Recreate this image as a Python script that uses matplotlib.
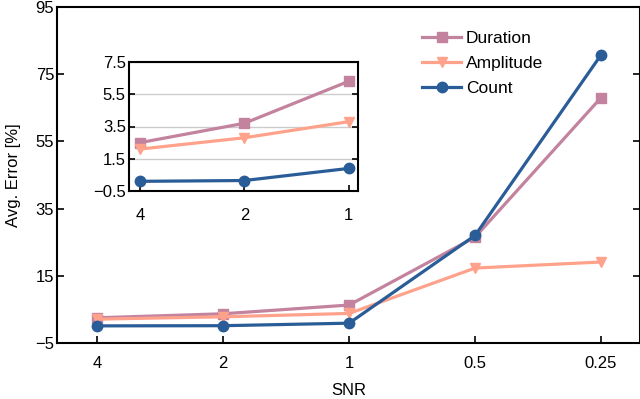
import matplotlib.pyplot as plt

plt.rcParams['font.family'] = ['Liberation Sans', 'DejaVu Sans']
plt.rcParams['font.size'] = 12

snr = ['4', '2', '1', '0.5', '0.25']
duration = [2.5, 3.7, 6.3, 26.5, 68.0]
amplitude = [2.1, 2.8, 3.8, 17.3, 19.1]
count = [0.1, 0.15, 0.9, 27.0, 80.7]

c_dur = '#c3839f'
c_amp = '#ffa28c'
c_cnt = '#2a5d98'

x = list(range(len(snr)))

fig = plt.figure(figsize=(6.4, 3.99), dpi=100)
ax = fig.add_axes([57/640, 1 - 343/399, (640 - 57)/640, (343 - 7)/399])

ax.plot(x, duration, color=c_dur, lw=2.3, marker='s', ms=7.5, label='Duration')
ax.plot(x, amplitude, color=c_amp, lw=2.3, marker='v', ms=7.5, label='Amplitude')
ax.plot(x, count, color=c_cnt, lw=2.3, marker='o', ms=7.5, label='Count')

ax.set_xlim(-0.32, 4.31)
ax.set_ylim(-5, 95)
ax.set_yticks([-5, 15, 35, 55, 75, 95])
ax.set_xticks(x)
ax.set_xticklabels(snr)
ax.tick_params(direction='in', right=True, length=5, width=1.2, pad=9)
ax.tick_params(axis='y', pad=2)
for s in ax.spines.values():
    s.set_linewidth(1.5)
ax.set_xlabel('SNR', labelpad=9)
ax.set_ylabel('Avg. Error [%]', labelpad=10)
ax.legend(loc='upper left', bbox_to_anchor=(0.6, 0.975), frameon=False,
          handlelength=2.2, handletextpad=0.3, labelspacing=0.55, fontsize=12.5)

# inset with the low-SNR points
ins = fig.add_axes([128.6/640, 1 - 191/399, (358 - 128.6)/640, (191 - 62)/399])
ins.plot(x[:3], duration[:3], color=c_dur, lw=2.3, marker='s', ms=7.5)
ins.plot(x[:3], amplitude[:3], color=c_amp, lw=2.3, marker='v', ms=7.5)
ins.plot(x[:3], count[:3], color=c_cnt, lw=2.3, marker='o', ms=7.5)
ins.set_xlim(-0.11, 2.09)
ins.set_ylim(-0.5, 7.5)
ins.set_yticks([-0.5, 1.5, 3.5, 5.5, 7.5])
ins.set_xticks(x[:3])
ins.set_xticklabels(snr[:3])
ins.grid(axis='y', color='#cccccc', lw=1)
ins.tick_params(direction='in', right=True, length=4, width=1.2, pad=2)
ins.tick_params(axis='x', pad=12)
for s in ins.spines.values():
    s.set_linewidth(1.5)

fig.savefig('out.png', dpi=100)
